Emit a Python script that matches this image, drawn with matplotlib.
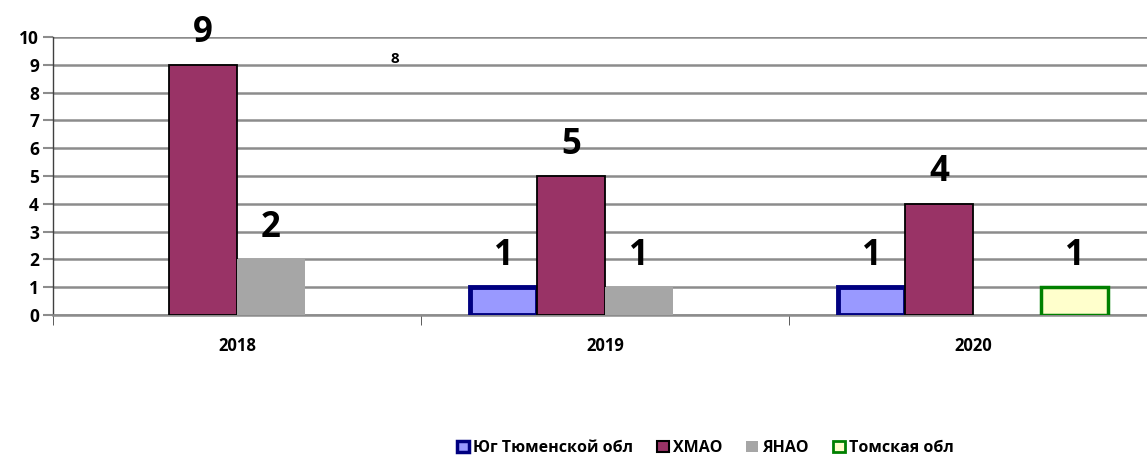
import numpy as np
import matplotlib
matplotlib.use("Agg")
from matplotlib import pyplot as plt
from matplotlib.patches import Patch

plt.rcParams['font.family'] = ['Open Sans', 'DejaVu Sans']

years = ["2018", "2019", "2020"]
series = ["Юг Тюменской обл", "ХМАО", "ЯНАО", "Томская обл"]
yug = [0, 1, 1]
hmao = [9, 5, 4]
yanao = [2, 1, 0]
tomsk = [0, 0, 1]

faces = ["#9999FF", "#993366", "#A6A6A6", "#FFFFCC"]
edges = ["#000080", "#000000", "#A6A6A6", "#008000"]
lws = [3.5, 1.3, 0.0, 2.5]

fig = plt.figure(figsize=(11.47, 4.59), dpi=100)
ax = fig.add_axes([0.0462, 0.3137, 0.9625, 0.6056])

x = np.arange(len(years))
w = 0.184
for i, vals in enumerate([yug, hmao, yanao, tomsk]):
    off = (i - 1.5) * w
    for xi, v in zip(x, vals):
        if v == 0:
            continue
        lw = lws[i]
        ax.bar(xi + off, v, w, color=faces[i], edgecolor=edges[i] if lw else "none",
               linewidth=lw, zorder=3)
        ax.text(xi + off, v + 0.48, str(v), ha="center", va="bottom",
                fontsize=25, fontweight="bold", zorder=4)

# stray label on the source chart
ax.text(0.43, 8.95, "8", ha="center", va="bottom", fontsize=11, fontweight="bold")

ax.set_xlim(-0.5, 2.5)
ax.set_ylim(0, 10)
ax.set_yticks(range(0, 11))
ax.yaxis.grid(True, color="#8c8c8c", linewidth=1.8, zorder=0)
ax.set_axisbelow(True)

ax.set_xticks(x)
ax.set_xticklabels(years, fontsize=12, fontweight="bold")
ax.set_xticks([-0.5, 0.5, 1.5, 2.5], minor=True)
ax.tick_params(axis="x", which="major", length=0, pad=16)
ax.tick_params(axis="x", which="minor", length=7, color="#404040", direction="out")
ax.tick_params(axis="y", length=7, color="#8c8c8c", width=1.5, labelsize=12.5, pad=3)
for lab in ax.get_yticklabels():
    lab.set_fontweight("bold")

for s in ["top", "right"]:
    ax.spines[s].set_visible(False)
ax.spines["bottom"].set_color("#8c8c8c")
ax.spines["bottom"].set_linewidth(1.8)
ax.spines["left"].set_color("#404040")
ax.spines["left"].set_linewidth(1.0)

handles = [Patch(facecolor=faces[i], edgecolor=edges[i], linewidth=[2.5, 1.5, 0, 2.0][i])
           for i in range(4)]
fig.legend(handles, series, loc="center", bbox_to_anchor=(0.615, 0.024), ncol=4,
           frameon=False, handlelength=0.75, handleheight=0.75, handletextpad=0.25,
           columnspacing=1.5, prop={"size": 11.5, "weight": "bold"})

fig.savefig("out.png", dpi=100)
